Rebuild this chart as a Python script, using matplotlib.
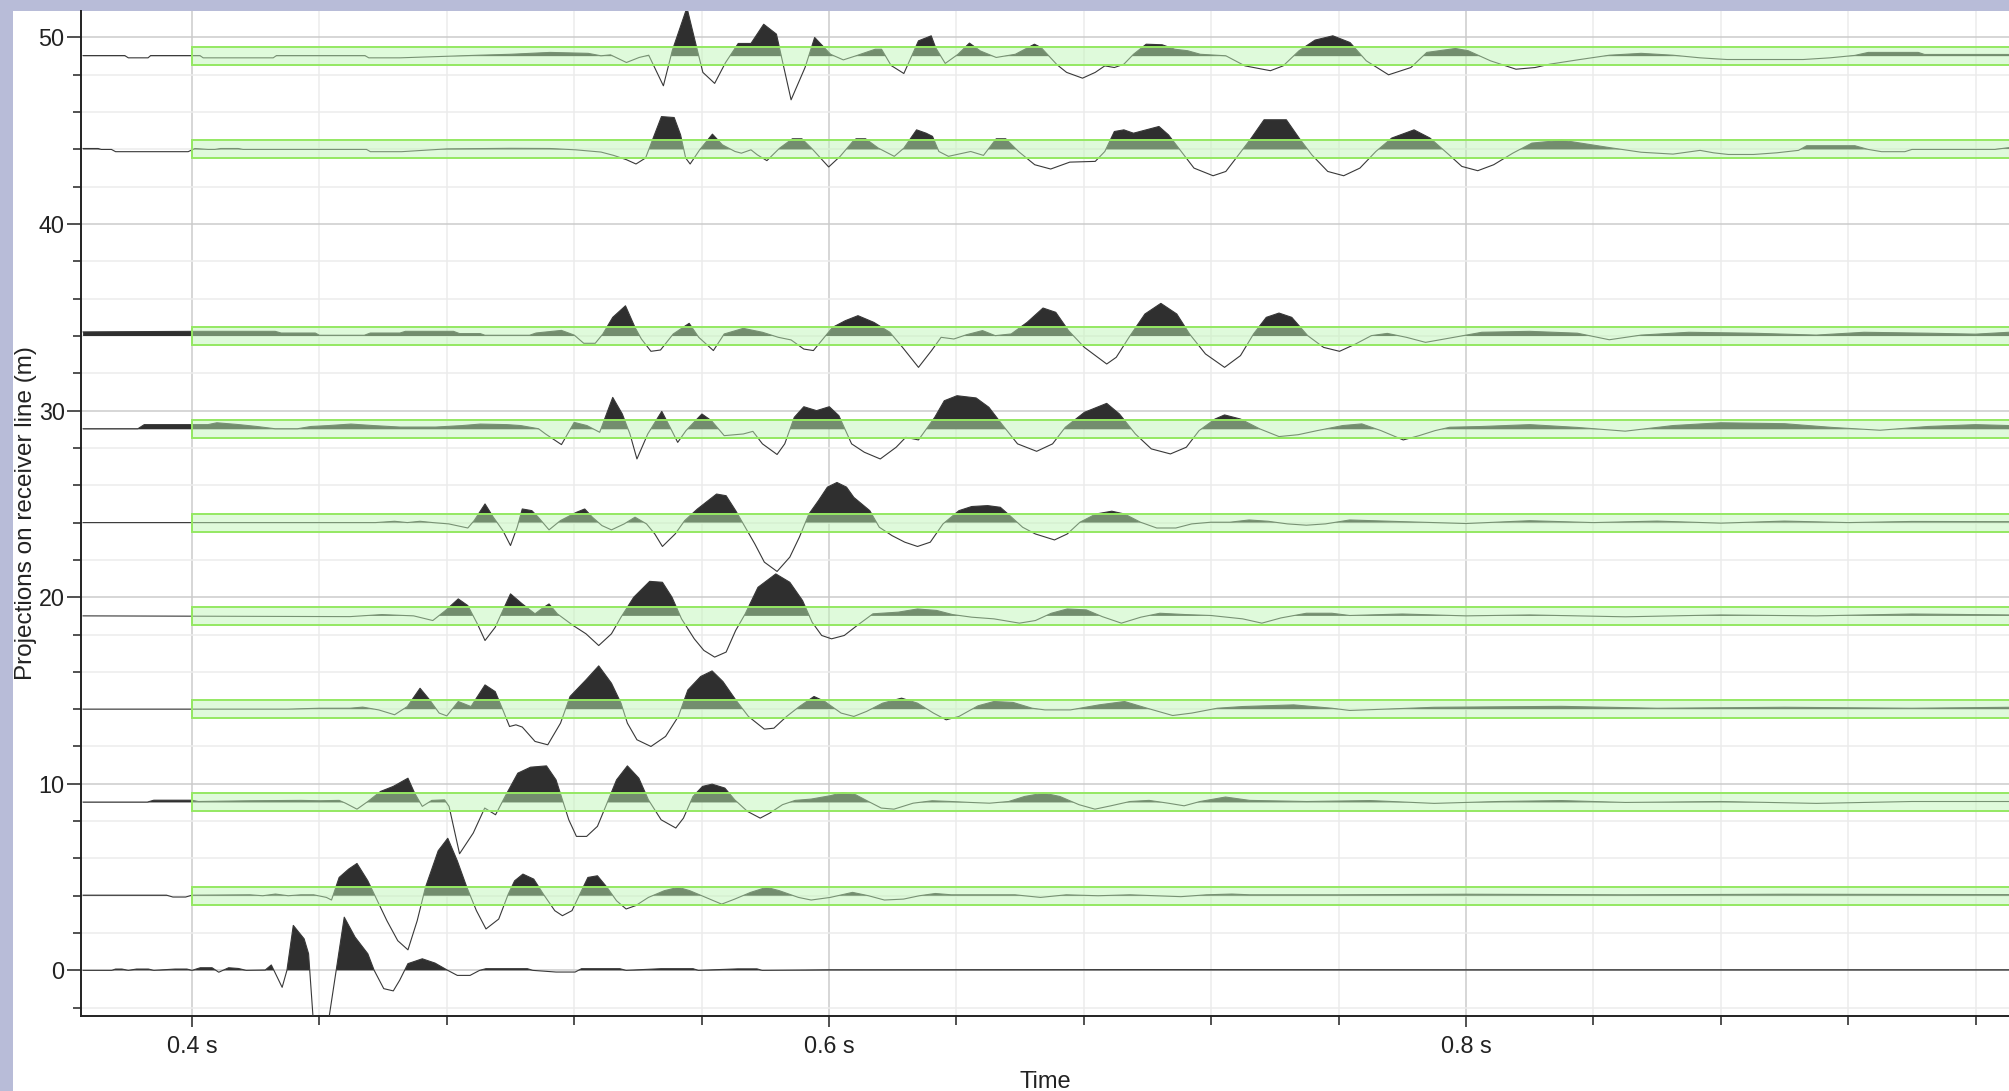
import numpy as np
import matplotlib
matplotlib.use("Agg")
import matplotlib.pyplot as plt
from matplotlib.patches import Rectangle
from matplotlib.ticker import FixedLocator

plt.rcParams['font.family'] = ['Liberation Sans', 'DejaVu Sans']

# projection of each receiver on the receiver line (m)
offsets = [0, 4, 9, 14, 19, 24, 29, 34, 44, 49]
# receivers that carry a picking window
windowed = [4, 9, 14, 19, 24, 29, 34, 44, 49]
window_start = 0.4      # s
window_half = 0.48      # m

x_major = [0.4, 0.6, 0.8]
x_major_labels = ['0.4 s', '0.6 s', '0.8 s']
x_minor = [0.44, 0.48, 0.52, 0.56, 0.64, 0.68, 0.72, 0.76, 0.84, 0.88, 0.92, 0.96]
y_major = [0, 10, 20, 30, 40, 50]
y_minor = [-2, 2, 4, 6, 8, 12, 14, 16, 18, 22, 24, 26, 28, 32, 34, 36, 38, 42, 44, 46, 48]

# trace samples: (time in ms, amplitude in m around the trace offset)
trace_0 = [
    (365.8, 0.0), (374.8, 0.0), (376.0, 0.07), (378.0, 0.07), (380.0, 0.0), (382.6, 0.07),
    (386.3, 0.07), (388.0, 0.0), (394.7, 0.07), (398.4, 0.07), (400.0, 0.0), (402.6, 0.14),
    (406.3, 0.14), (408.4, -0.1), (411.5, 0.14), (414.6, 0.1), (417.0, 0.0), (423.0, 0.02),
    (424.9, 0.29), (428.3, -0.91), (429.8, 0.0), (431.8, 2.41), (435.2, 1.69), (436.6, 0.89),
    (438.2, -3.0), (442.6, -3.0), (447.8, 2.85), (451.2, 1.78), (455.2, 0.89), (457.2, 0.0),
    (460.2, -0.98), (463.2, -1.1), (465.2, -0.53), (467.8, 0.36), (472.3, 0.62), (476.3, 0.39),
    (480.3, 0.0), (483.3, -0.27), (487.3, -0.27), (490.3, 0.0), (492.3, 0.09), (505.3, 0.09),
    (507.0, 0.0), (514.3, -0.09), (520.3, -0.09), (522.3, 0.09), (534.3, 0.09), (536.3, 0.0),
    (547.3, 0.09), (557.3, 0.09), (559.0, 0.0), (571.4, 0.08), (577.4, 0.08), (579.0, 0.0),
    (600.0, 0.03), (700.0, 0.04), (800.0, 0.03), (970.5, 0.03),
]
trace_4 = [
    (365.8, 0.03), (392.0, 0.03), (394.0, -0.07), (398.0, -0.07), (400.0, 0.03), (418.2, 0.05),
    (422.2, 0.0), (426.2, 0.09), (430.2, 0.0), (434.2, 0.05), (438.2, 0.05), (442.2, -0.09),
    (443.8, -0.23), (446.2, 0.98), (449.2, 1.43), (451.8, 1.73), (455.2, 0.8), (458.2, -0.27),
    (461.2, -1.34), (464.6, -2.41), (467.8, -2.9), (470.7, -1.34), (473.3, 0.45), (477.3, 2.41),
    (480.3, 3.08), (483.3, 1.87), (486.3, 0.45), (489.3, -0.8), (492.3, -1.78), (496.3, -1.25),
    (499.3, 0.09), (501.3, 0.8), (503.9, 1.16), (507.3, 0.89), (510.3, 0.09), (513.9, -0.8),
    (516.3, -1.07), (519.3, -0.8), (522.3, 0.27), (524.3, 0.98), (527.3, 1.07), (530.3, 0.45),
    (533.3, -0.27), (536.3, -0.71), (539.3, -0.53), (543.3, -0.09), (548.3, 0.27), (552.7, 0.45),
    (556.3, 0.27), (561.3, -0.09), (566.3, -0.45), (570.4, -0.18), (575.4, 0.18), (580.4, 0.45),
    (584.4, 0.27), (590.4, -0.09), (594.4, -0.23), (600.4, -0.09), (607.4, 0.18), (612.4, 0.0),
    (617.4, -0.23), (623.4, -0.18), (628.4, 0.0), (633.4, 0.12), (638.4, 0.05), (658.4, 0.05),
    (666.4, -0.09), (674.5, 0.05), (684.5, 0.0), (694.5, 0.05), (702.5, 0.0), (710.5, -0.05),
    (718.5, 0.05), (726.5, 0.09), (732.1, 0.05), (760.0, 0.05), (800.0, 0.08), (850.0, 0.05),
    (900.0, 0.08), (970.5, 0.06),
]
trace_9 = [
    (365.8, 0.02), (386.0, 0.02), (388.0, 0.12), (400.0, 0.12), (402.0, 0.05), (418.2, 0.09),
    (434.2, 0.11), (440.2, 0.09), (446.2, 0.11), (448.2, -0.04), (451.8, -0.36), (455.2, 0.05),
    (459.2, 0.59), (463.2, 0.86), (467.8, 1.3), (469.9, 0.5), (472.3, -0.21), (475.3, 0.11),
    (479.3, 0.14), (480.7, -0.21), (484.0, -2.75), (488.3, -1.64), (491.9, -0.3), (495.3, -0.66),
    (498.3, 0.32), (502.3, 1.57), (506.3, 1.89), (511.3, 1.96), (514.3, 1.21), (516.3, 0.14),
    (518.3, -0.93), (520.7, -1.82), (523.9, -1.82), (527.3, -1.28), (530.3, -0.04), (533.3, 1.21),
    (536.7, 1.96), (540.3, 1.3), (543.3, 0.14), (547.3, -0.93), (551.9, -1.37), (554.3, -0.84),
    (557.3, 0.32), (560.3, 0.86), (563.3, 0.98), (567.3, 0.77), (570.4, 0.14), (574.4, -0.48),
    (578.4, -0.84), (581.4, -0.57), (585.4, -0.12), (589.4, 0.11), (594.4, 0.18), (600.4, 0.36),
    (604.4, 0.53), (608.4, 0.41), (612.4, 0.05), (616.4, -0.3), (620.4, -0.36), (626.4, -0.04),
    (632.4, 0.09), (638.4, 0.05), (644.4, 0.0), (650.4, -0.04), (656.4, 0.05), (661.4, 0.32),
    (667.4, 0.5), (672.5, 0.32), (678.5, -0.12), (683.5, -0.36), (688.5, -0.18), (694.5, 0.05),
    (700.5, 0.11), (706.5, -0.04), (711.5, -0.18), (716.5, 0.05), (724.5, 0.29), (732.1, 0.11),
    (750.0, 0.05), (770.0, 0.1), (790.0, -0.05), (810.0, 0.05), (830.0, 0.1), (850.0, 0.0),
    (880.0, 0.05), (910.0, -0.05), (940.0, 0.05), (970.5, 0.05),
]
trace_14 = [
    (365.8, 0.0), (430.0, 0.0), (440.0, 0.05), (449.6, 0.05), (453.6, 0.11), (458.6, -0.04),
    (463.6, -0.3), (467.6, 0.14), (471.6, 1.12), (474.6, 0.5), (477.6, -0.21), (480.0, -0.36),
    (483.6, 0.41), (487.6, 0.14), (492.0, 1.3), (495.2, 0.94), (497.6, -0.04), (499.7, -0.93),
    (501.7, -0.84), (503.7, -0.96), (507.7, -1.73), (511.7, -1.91), (515.7, -0.75), (518.7, 0.68),
    (523.7, 1.57), (527.7, 2.32), (531.7, 1.39), (534.7, 0.32), (536.7, -0.75), (539.7, -1.64),
    (544.1, -2.0), (548.7, -1.46), (552.7, -0.39), (555.7, 1.03), (559.7, 1.75), (563.3, 2.05),
    (566.7, 1.48), (570.7, 0.5), (574.7, -0.39), (579.7, -1.07), (582.7, -1.02), (586.7, -0.39),
    (590.7, 0.14), (595.3, 0.68), (598.7, 0.41), (603.8, -0.21), (607.8, -0.39), (611.8, -0.12),
    (616.8, 0.32), (622.8, 0.59), (627.8, 0.32), (632.8, -0.21), (636.8, -0.57), (640.8, -0.39),
    (646.8, 0.18), (651.8, 0.41), (657.8, 0.36), (663.8, 0.05), (667.8, -0.04), (675.8, -0.04),
    (684.8, 0.23), (692.8, 0.41), (699.9, 0.05), (707.9, -0.34), (713.9, -0.21), (721.9, 0.05),
    (729.9, 0.14), (745.9, 0.23), (757.9, 0.05), (763.5, -0.07), (790.0, 0.1), (830.0, 0.15),
    (860.0, 0.05), (900.0, 0.1), (940.0, 0.05), (970.5, 0.1),
]
trace_19 = [
    (365.8, 0.0), (449.6, -0.04), (459.6, 0.07), (469.6, 0.0), (475.6, -0.25), (479.6, 0.29),
    (483.6, 0.91), (486.6, 0.55), (489.6, -0.43), (492.0, -1.32), (495.2, -0.61), (497.6, 0.29),
    (500.0, 1.18), (503.7, 0.64), (507.7, 0.11), (509.7, 0.37), (512.1, 0.64), (514.7, 0.11),
    (519.7, -0.52), (523.7, -0.96), (527.7, -1.59), (531.7, -0.96), (534.7, -0.07), (538.7, 1.0),
    (543.7, 1.85), (547.7, 1.8), (550.7, 1.0), (553.7, -0.16), (557.7, -1.23), (560.7, -1.85),
    (564.1, -2.21), (567.7, -1.94), (570.7, -0.78), (573.7, 0.11), (577.7, 1.53), (583.3, 2.25),
    (587.7, 1.8), (591.7, 0.82), (594.7, -0.34), (597.7, -1.05), (600.8, -1.23), (604.8, -1.05),
    (608.8, -0.52), (613.8, 0.11), (621.8, 0.2), (627.8, 0.37), (633.8, 0.29), (638.8, 0.07),
    (644.8, -0.07), (651.8, -0.16), (659.8, -0.39), (664.8, -0.25), (669.8, 0.14), (674.8, 0.37),
    (680.8, 0.32), (685.8, -0.04), (691.8, -0.39), (697.9, -0.07), (703.9, 0.14), (711.9, 0.07),
    (719.9, 0.02), (729.9, -0.16), (735.9, -0.39), (741.9, -0.11), (749.9, 0.14), (757.9, 0.14),
    (763.5, 0.02), (780.0, 0.1), (800.0, 0.0), (820.0, 0.05), (850.0, -0.05), (880.0, 0.05),
    (910.0, 0.0), (940.0, 0.1), (970.5, 0.05),
]
trace_24 = [
    (365.8, 0.0), (457.6, 0.0), (463.6, 0.07), (467.6, 0.0), (471.6, 0.07), (475.6, 0.0),
    (480.6, -0.07), (486.6, -0.29), (488.6, 0.11), (492.0, 1.0), (494.6, 0.29), (497.6, -0.43),
    (500.0, -1.23), (502.1, -0.25), (503.7, 0.73), (506.7, 0.64), (508.7, 0.29), (512.1, -0.39),
    (515.7, 0.11), (520.7, 0.55), (523.3, 0.73), (525.7, 0.29), (528.7, -0.16), (531.7, -0.39),
    (535.7, -0.07), (539.1, 0.29), (542.7, -0.07), (545.3, -0.61), (547.7, -1.28), (551.7, -0.61),
    (554.7, 0.11), (558.7, 0.73), (564.7, 1.53), (567.7, 1.44), (570.7, 0.64), (573.7, -0.25),
    (576.7, -1.14), (579.7, -2.12), (583.7, -2.62), (587.7, -1.85), (590.7, -0.78), (593.7, 0.46),
    (596.7, 1.18), (599.5, 1.9), (602.5, 2.15), (605.5, 1.9), (607.8, 1.35), (612.8, 0.64),
    (615.8, -0.25), (619.8, -0.7), (623.8, -1.05), (627.8, -1.28), (631.8, -1.05), (635.8, -0.07),
    (640.8, 0.64), (644.8, 0.86), (649.8, 0.91), (653.8, 0.82), (656.8, 0.37), (660.8, -0.25),
    (664.8, -0.61), (670.8, -0.93), (674.8, -0.61), (678.8, 0.02), (683.8, 0.46), (688.8, 0.61),
    (692.8, 0.46), (697.8, 0.02), (702.9, -0.29), (708.9, -0.29), (713.9, -0.07), (719.9, 0.02),
    (725.9, 0.02), (731.9, 0.14), (737.9, 0.07), (743.9, -0.07), (749.9, -0.14), (755.9, -0.07),
    (763.5, 0.14), (780.0, 0.05), (800.0, -0.05), (820.0, 0.1), (840.0, 0.0), (860.0, 0.08),
    (880.0, -0.03), (900.0, 0.08), (920.0, 0.0), (940.0, 0.06), (970.5, 0.05),
]
trace_29 = [
    (365.8, 0.03), (383.0, 0.03), (385.0, 0.25), (405.0, 0.25), (407.8, 0.35), (414.8, 0.25),
    (420.4, 0.15), (426.1, 0.03), (433.1, 0.03), (437.3, 0.15), (442.9, 0.2), (449.9, 0.28),
    (456.9, 0.2), (465.3, 0.12), (476.5, 0.12), (484.9, 0.2), (490.5, 0.28), (498.9, 0.25),
    (503.2, 0.2), (508.8, 0.03), (511.0, -0.25), (516.0, -0.82), (520.0, 0.37), (524.0, 0.2),
    (528.0, -0.16), (532.1, 1.71), (535.1, 0.82), (537.5, -0.25), (539.7, -1.59), (543.1, -0.25),
    (547.5, 0.96), (550.1, 0.11), (552.5, -0.7), (555.1, -0.07), (560.1, 0.82), (563.1, 0.46),
    (567.1, -0.34), (573.1, -0.25), (576.1, -0.11), (579.1, -0.78), (583.7, -1.35), (586.1, -0.78),
    (589.1, 0.64), (592.1, 1.21), (596.1, 1.0), (600.1, 1.21), (603.1, 0.73), (607.1, -0.78),
    (611.1, -1.23), (616.1, -1.59), (621.1, -0.96), (624.1, -0.43), (628.1, -0.57), (633.2, 0.64),
    (636.2, 1.53), (640.2, 1.8), (646.2, 1.68), (650.2, 1.18), (654.2, 0.29), (659.2, -0.78),
    (665.2, -1.18), (670.2, -0.78), (674.2, 0.11), (680.2, 0.91), (687.2, 1.39), (691.2, 0.82),
    (696.2, -0.25), (701.2, -1.05), (707.2, -1.32), (712.2, -0.96), (716.2, -0.07), (721.2, 0.55),
    (724.2, 0.77), (729.2, 0.55), (735.3, 0.02), (741.3, -0.39), (747.3, -0.29), (753.3, -0.07),
    (761.3, 0.2), (767.3, 0.29), (773.3, -0.07), (780.3, -0.57), (785.3, -0.34), (790.3, -0.07),
    (794.9, 0.11), (805.0, 0.15), (820.0, 0.25), (835.0, 0.1), (850.0, -0.1), (865.0, 0.2),
    (880.0, 0.35), (900.0, 0.3), (915.0, 0.1), (930.0, -0.05), (945.0, 0.15), (960.0, 0.25),
    (970.5, 0.2),
]
trace_34 = [
    (365.8, 0.22), (400.1, 0.25), (426.1, 0.25), (428.0, 0.16), (438.7, 0.16), (440.0, 0.04),
    (454.1, 0.04), (456.0, 0.16), (465.3, 0.16), (467.0, 0.25), (482.1, 0.25), (484.0, 0.13),
    (490.5, 0.13), (492.0, 0.04), (506.0, 0.04), (508.0, 0.16), (510.2, 0.2), (516.0, 0.3),
    (520.0, 0.05), (523.0, -0.39), (526.6, -0.39), (529.0, 0.11), (532.1, 1.0), (536.1, 1.62),
    (539.1, 0.46), (541.1, -0.16), (544.1, -0.82), (547.1, -0.75), (551.1, 0.11), (556.1, 0.68),
    (559.1, -0.07), (563.7, -0.78), (567.1, 0.11), (573.1, 0.41), (579.1, 0.2), (584.1, -0.07),
    (588.1, -0.21), (592.1, -0.7), (595.1, -0.78), (598.1, -0.16), (601.1, 0.46), (605.1, 0.82),
    (609.1, 1.09), (614.1, 0.73), (619.1, 0.2), (623.1, -0.61), (628.1, -1.68), (632.2, -0.78),
    (635.2, -0.07), (639.2, -0.16), (643.2, 0.07), (648.2, 0.29), (652.2, 0.02), (657.2, 0.11),
    (662.2, 0.73), (667.2, 1.5), (671.2, 1.27), (675.2, 0.29), (680.2, -0.61), (687.2, -1.5),
    (690.2, -1.14), (694.2, -0.07), (699.2, 1.18), (704.2, 1.75), (709.2, 1.18), (713.2, 0.11),
    (718.2, -0.96), (724.2, -1.68), (729.2, -1.05), (733.3, 0.11), (737.3, 1.0), (741.3, 1.23),
    (745.3, 1.0), (750.3, 0.02), (755.3, -0.61), (760.3, -0.82), (765.3, -0.43), (770.3, 0.02),
    (775.3, 0.14), (781.3, -0.07), (787.3, -0.34), (794.9, -0.11), (805.0, 0.2), (820.0, 0.25),
    (835.0, 0.15), (845.0, -0.2), (855.0, 0.05), (870.0, 0.2), (890.0, 0.15), (910.0, 0.05),
    (925.0, 0.2), (945.0, 0.15), (960.0, 0.1), (970.5, 0.2),
]
trace_44 = [
    (365.8, 0.05), (370.5, 0.05), (371.5, 0.0), (374.7, 0.0), (376.0, -0.12), (398.8, -0.12),
    (400.9, 0.05), (405.0, 0.0), (407.2, 0.0), (409.0, 0.05), (414.5, 0.05), (416.0, 0.0),
    (454.8, 0.0), (456.0, -0.12), (465.8, -0.12), (480.0, 0.03), (500.0, 0.06), (512.4, 0.05),
    (520.4, -0.02), (528.4, -0.14), (532.4, -0.32), (536.4, -0.55), (539.4, -0.78), (542.4, -0.46),
    (544.4, 0.43), (547.4, 1.76), (551.4, 1.71), (553.4, 0.78), (555.0, -0.46), (556.4, -0.78),
    (559.4, -0.02), (563.4, 0.82), (566.5, 0.25), (570.5, -0.11), (572.5, -0.2), (575.5, -0.02),
    (577.5, -0.29), (580.5, -0.6), (584.5, 0.07), (588.5, 0.57), (591.5, 0.57), (594.5, 0.07),
    (599.9, -0.94), (603.5, -0.37), (607.5, 0.43), (608.5, 0.57), (611.5, 0.57), (615.5, 0.07),
    (620.5, -0.37), (623.5, 0.07), (627.5, 1.05), (630.5, 0.87), (632.5, 0.7), (634.5, -0.11),
    (637.5, -0.37), (644.5, -0.11), (648.5, -0.32), (652.5, 0.57), (655.5, 0.57), (659.5, -0.11),
    (664.6, -0.82), (669.6, -1.05), (675.6, -0.68), (683.6, -0.64), (686.6, -0.11), (689.6, 0.96),
    (692.6, 1.05), (695.6, 0.87), (699.6, 1.05), (703.6, 1.23), (706.6, 0.78), (710.6, -0.11),
    (714.6, -1.0), (720.6, -1.41), (724.6, -1.18), (728.6, -0.29), (732.6, 0.61), (736.6, 1.59),
    (743.6, 1.59), (747.6, 0.61), (751.6, -0.29), (756.6, -1.18), (761.6, -1.41), (766.7, -1.0),
    (771.7, -0.11), (776.7, 0.61), (783.7, 1.05), (788.7, 0.61), (794.7, -0.29), (798.7, -0.91),
    (803.7, -1.14), (808.7, -0.82), (814.7, -0.2), (820.7, 0.34), (826.3, 0.43), (830.0, 0.5),
    (845.0, 0.1), (855.0, -0.15), (865.0, -0.25), (873.5, -0.05), (877.7, -0.18), (882.4, -0.27),
    (890.3, -0.27), (897.6, -0.18), (904.4, -0.05), (907.0, 0.2), (922.1, 0.2), (926.3, 0.0),
    (930.5, -0.12), (937.8, -0.12), (940.0, 0.0), (966.1, 0.0), (970.5, 0.1),
]
trace_49 = [
    (365.8, 0.03), (378.9, 0.03), (380.0, -0.09), (386.2, -0.09), (387.0, 0.03), (402.5, 0.03),
    (403.5, -0.09), (425.5, -0.09), (426.5, 0.03), (454.3, 0.03), (455.5, -0.09), (465.3, -0.09),
    (490.0, 0.05), (500.0, 0.1), (512.4, 0.2), (524.4, 0.15), (528.4, 0.02), (531.4, 0.07),
    (536.4, -0.34), (540.4, -0.07), (543.4, 0.05), (548.0, -1.59), (550.8, 0.3), (555.4, 2.6),
    (558.4, 0.5), (560.4, -0.87), (564.1, -1.46), (567.5, -0.35), (571.5, 0.68), (575.5, 0.68),
    (579.5, 1.71), (583.5, 1.18), (584.9, 0.1), (588.1, -2.34), (592.5, -0.6), (595.5, 1.0),
    (600.5, 0.1), (604.5, -0.2), (608.5, 0.02), (614.5, 0.37), (616.5, 0.37), (619.5, -0.5),
    (623.5, -0.93), (628.1, 0.82), (632.1, 1.09), (633.5, 0.45), (636.5, -0.39), (640.5, 0.1),
    (644.1, 0.7), (647.5, 0.28), (652.5, -0.07), (658.5, 0.1), (664.5, 0.64), (666.6, 0.46),
    (671.6, -0.46), (674.6, -0.87), (679.6, -1.18), (683.6, -0.87), (686.6, -0.52), (689.6, -0.61),
    (692.6, -0.43), (695.6, 0.1), (699.6, 0.64), (704.6, 0.61), (708.6, 0.37), (712.6, 0.29),
    (716.6, 0.1), (724.6, 0.02), (730.6, -0.52), (738.6, -0.78), (742.6, -0.52), (747.6, 0.29),
    (752.6, 0.86), (758.2, 1.09), (763.6, 0.73), (768.7, -0.25), (775.7, -1.0), (782.7, -0.61),
    (787.7, 0.2), (796.7, 0.41), (800.7, 0.29), (807.7, -0.25), (815.7, -0.7), (821.7, -0.61),
    (826.3, -0.43), (835.0, -0.2), (845.0, 0.05), (855.0, 0.15), (865.0, 0.05), (873.5, -0.09),
    (881.9, -0.18), (905.9, -0.18), (914.3, -0.09), (922.1, 0.04), (926.3, 0.2), (942.0, 0.2),
    (944.0, 0.09), (970.5, 0.09),
]

traces = {0: trace_0, 4: trace_4, 9: trace_9, 14: trace_14, 19: trace_19,
          24: trace_24, 29: trace_29, 34: trace_34, 44: trace_44, 49: trace_49}

W, H = 2009, 1091
fig = plt.figure(figsize=(W / 100, H / 100), dpi=100, facecolor='#b8bcd8')
# white page inside the lilac frame (frame only on the left and top)
fig.add_artist(Rectangle((13 / W, 0), 1, 1 - 11 / H, transform=fig.transFigure,
                         facecolor='white', edgecolor='none', zorder=-10))

left, bottom, top = 80.7 / W, 1 - 1015.7 / H, 1 - 11 / H
ax = fig.add_axes([left, bottom, 1 - left, top - bottom])

for off in offsets:
    d = np.array(traces[off])
    t = d[:, 0] / 1000.0
    y = off + d[:, 1]
    ax.fill_between(t, off, y, where=y > off, interpolate=True,
                    color='#2f2f2f', lw=0, zorder=2)
    ax.plot(t, y, color='#383838', lw=0.8, zorder=3)

for off in windowed:
    ax.add_patch(Rectangle((window_start, off - window_half), 0.6, 2 * window_half,
                           facecolor=(0.745, 0.96, 0.71, 0.48), edgecolor='#94e862',
                           lw=1.4, zorder=4))

ax.set_xlim(0.36505, 0.9705)
ax.set_ylim(-2.43, 51.42)

ax.set_xticks(x_major)
ax.set_xticklabels(x_major_labels)
ax.xaxis.set_minor_locator(FixedLocator(x_minor))
ax.set_yticks(y_major)
ax.yaxis.set_minor_locator(FixedLocator(y_minor))

ax.set_axisbelow(True)
ax.grid(True, which='minor', color='#ececec', lw=1.1)
ax.grid(True, which='major', color='#cbcbcb', lw=1.1)

ax.tick_params(which='both', direction='out', width=1.1, color='#222222',
               labelcolor='#222222', labelsize=16.8)
ax.tick_params(axis='x', which='major', length=8, pad=6)
ax.tick_params(axis='x', which='minor', length=6.5)
ax.tick_params(axis='y', which='major', length=10, pad=1.5)
ax.tick_params(axis='y', which='minor', length=6)

for side in ('top', 'right'):
    ax.spines[side].set_visible(False)
for side in ('left', 'bottom'):
    ax.spines[side].set_linewidth(1.4)
    ax.spines[side].set_color('#222222')

ax.set_xlabel('Time', fontsize=17, color='#222222')
ax.set_ylabel('Projections on receiver line (m)', fontsize=17.5, color='#222222')
ax.xaxis.set_label_coords(0.5, -0.055)
ax.yaxis.set_label_coords(-0.0225, 0.5)

fig.savefig('out.png', dpi=100, facecolor=fig.get_facecolor())
